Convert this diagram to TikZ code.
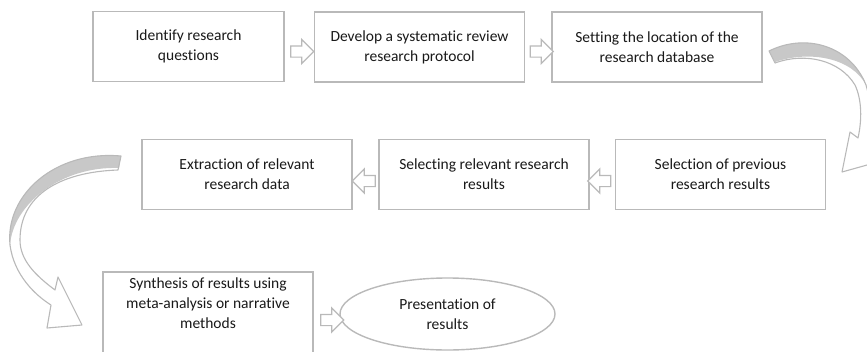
\documentclass[tikz,border=0pt]{standalone}
\usepackage{fontspec}
\setmainfont[Ligatures=NoCommon]{Carlito}
\usetikzlibrary{shapes.geometric,shapes.arrows}
\definecolor{linegray}{RGB}{185,185,185}
\definecolor{txt}{RGB}{25,25,25}
\definecolor{bandgray}{RGB}{200,200,200}
\begin{document}
\begin{tikzpicture}[x=1pt,y=-1pt,
  stepbox/.style={draw=linegray, line width=1.4pt, fill=white, minimum width=210pt,
    minimum height=70pt, align=center, text=txt,
    font=\fontsize{15.5}{20}\selectfont, inner sep=2pt},
  blk/.style={single arrow, draw=linegray, line width=1.2pt, fill=white,
    inner xsep=0pt, inner ysep=5pt, minimum height=23pt,
    single arrow head extend=6.5pt, single arrow head indent=0pt},
  arcline/.style={draw=linegray, line width=1.1pt, line join=round}
  ]
\useasboundingbox (0,0) rectangle (867,351);

% row 1
\node[stepbox, minimum width=191pt] (b1) at (188.5,46.5) {Identify research\\questions};
\node[stepbox] (b2) at (419.5,47) {Develop a systematic review\\research protocol};
\node[stepbox] (b3) at (657,47) {Setting the location of the\\research database};
% row 2
\node[stepbox] (b4) at (720.5,174.5) {Selection of previous\\research results};
\node[stepbox] (b5) at (484,174.5) {Selecting relevant research\\results};
\node[stepbox] (b6) at (247,174.5) {Extraction of relevant\\research data};
% row 3
\node[stepbox, minimum height=90pt, text depth=28pt] (b7) at (208,317) {Synthesis of results using\\meta-analysis or narrative\\methods};
\node[draw=linegray, line width=1.4pt, ellipse, minimum width=215pt, minimum height=72pt,
  align=center, text=txt, font=\fontsize{15.5}{20}\selectfont, inner sep=0pt] (e1) at (447.5,314) {Presentation of\\results};

% block arrows
\node[blk] (a12) at (299.5,51.5) {};
\node[blk] (a23) at (539,51.5) {};
\node[blk, shape border rotate=180] (a45) at (602,181) {};
\node[blk, shape border rotate=180] (a56) at (366.5,181) {};
\node[blk] (a7e) at (329.5,320) {};

% curved arrow top right
\fill[white] (769,51) .. controls (805,33) and (850,45) .. (866,85)
  .. controls (872,105) and (872,130) .. (870,148) -- (885,160) -- (842,172) -- (850,132)
  -- (858,138) .. controls (862,120) and (862,100) .. (855,85)
  .. controls (840,60) and (805,52) .. (775,63) -- cycle;
\fill[bandgray] (769,51) .. controls (805,33) and (850,45) .. (866,85)
  .. controls (852,58) and (810,50) .. (775,62) -- cycle;
\draw[arcline] (769,51) .. controls (805,33) and (850,45) .. (866,85)
  .. controls (872,105) and (872,130) .. (870,148) -- (885,160) -- (842,172) -- (850,132)
  -- (858,138) .. controls (862,120) and (862,100) .. (855,85)
  .. controls (840,60) and (805,52) .. (775,63) -- cycle;

% curved arrow left
\fill[white] (121,156) .. controls (55,150) and (5,195) .. (10,245)
  .. controls (14,275) and (35,295) .. (51,305) -- (47,328) -- (82,325) -- (58,277)
  -- (55,290) .. controls (35,275) and (20,260) .. (20,240)
  .. controls (20,195) and (60,172) .. (118,170) -- cycle;
\fill[bandgray] (121,156) .. controls (55,150) and (5,195) .. (10,245)
  .. controls (13,205) and (60,166) .. (119,168) -- cycle;
\draw[arcline] (121,156) .. controls (55,150) and (5,195) .. (10,245)
  .. controls (14,275) and (35,295) .. (51,305) -- (47,328) -- (82,325) -- (58,277)
  -- (55,290) .. controls (35,275) and (20,260) .. (20,240)
  .. controls (20,195) and (60,172) .. (118,170) -- cycle;
\end{tikzpicture}
\end{document}
